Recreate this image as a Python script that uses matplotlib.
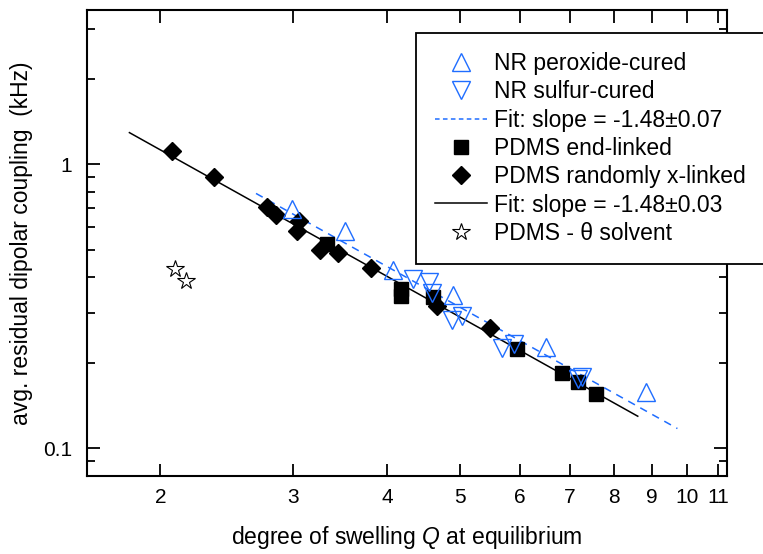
import numpy as np
import matplotlib
matplotlib.use("Agg")
import matplotlib.pyplot as plt
from matplotlib.ticker import FixedLocator, NullLocator, NullFormatter, FixedFormatter, LogLocator

plt.rcParams['font.family'] = ['Liberation Sans', 'DejaVu Sans']
plt.rcParams['mathtext.fontset'] = 'custom'
plt.rcParams['mathtext.rm'] = 'Liberation Sans'
plt.rcParams['mathtext.it'] = 'Liberation Sans:italic'

# NR peroxide-cured (up triangles)
nr_perox_q = [2.99, 3.52, 4.08, 4.90, 6.50, 8.82]
nr_perox_d = [0.697, 0.582, 0.425, 0.347, 0.228, 0.158]

# NR sulfur-cured (down triangles)
nr_sulf_q = [4.33, 4.55, 4.59, 4.88, 5.03, 5.68, 5.89, 7.17, 7.27]
nr_sulf_d = [0.394, 0.386, 0.353, 0.283, 0.292, 0.225, 0.234, 0.176, 0.178]

# PDMS end-linked (squares)
pdms_end_q = [3.33, 4.18, 4.18, 4.61, 5.96, 6.84, 7.17, 7.57]
pdms_end_d = [0.526, 0.365, 0.345, 0.342, 0.224, 0.1835, 0.171, 0.156]

# PDMS randomly x-linked (diamonds)
pdms_rand_q = [2.07, 2.36, 2.77, 2.85, 3.06, 3.04, 3.26, 3.44, 3.81, 4.66, 5.48]
pdms_rand_d = [1.118, 0.903, 0.709, 0.662, 0.633, 0.585, 0.498, 0.487, 0.430, 0.317, 0.265]

# PDMS in theta solvent (stars)
pdms_theta_q = [2.09, 2.165]
pdms_theta_d = [0.428, 0.388]

# power-law fits D = A * Q^slope
nr_slope, nr_pref = -1.48, 3.40
nr_fit_q = np.array([2.68, 9.72])
pdms_slope, pdms_pref = -1.48, 3.14
pdms_fit_q = np.array([1.82, 8.61])

blue = '#1f6dff'

fig = plt.figure(figsize=(7.63, 5.54), dpi=100)
ax = fig.add_axes([0.1144, 0.1408, 0.8380, 0.8412])

ax.plot(pdms_fit_q, pdms_pref * pdms_fit_q ** pdms_slope, color='black', lw=1.1, zorder=2)
ax.plot(nr_fit_q, nr_pref * nr_fit_q ** nr_slope, color=blue, lw=1.1, dashes=(5, 4), zorder=2)

h_up, = ax.plot(nr_perox_q, nr_perox_d, ls='none', marker='^', ms=12.5, mfc='none', mec=blue, mew=1.0, zorder=4)
h_dn, = ax.plot(nr_sulf_q, nr_sulf_d, ls='none', marker='v', ms=12.5, mfc='none', mec=blue, mew=1.0, zorder=4)
h_sq, = ax.plot(pdms_end_q, pdms_end_d, ls='none', marker='s', ms=10, color='black', zorder=3)
h_di, = ax.plot(pdms_rand_q, pdms_rand_d, ls='none', marker='D', ms=9, color='black', zorder=3)
h_st, = ax.plot(pdms_theta_q, pdms_theta_d, ls='none', marker='*', ms=13, mfc='white', mec='black', mew=0.8, zorder=3)

ax.set_xscale('log')
ax.set_yscale('log')
ax.set_xlim(1.60, 11.30)
ax.set_ylim(0.0799, 3.50)

xt = [2, 3, 4, 5, 6, 7, 8, 9, 10, 11]
ax.xaxis.set_major_locator(FixedLocator(xt))
ax.xaxis.set_major_formatter(FixedFormatter([str(t) for t in xt]))
ax.xaxis.set_minor_locator(NullLocator())
ax.xaxis.set_minor_formatter(NullFormatter())
ax.yaxis.set_major_locator(FixedLocator([0.1, 1]))
ax.yaxis.set_major_formatter(FixedFormatter(['0.1', '1']))
ax.yaxis.set_minor_locator(LogLocator(base=10, subs=np.arange(2, 10)))
ax.yaxis.set_minor_formatter(NullFormatter())

ax.tick_params(which='both', direction='in', top=True, right=True, width=1.3, labelsize=15)
ax.tick_params(axis='x', which='major', length=9, pad=9)
ax.tick_params(axis='y', which='major', length=9.5, pad=11)
ax.tick_params(axis='y', which='minor', length=5.5)
for s in ax.spines.values():
    s.set_linewidth(1.5)

ax.set_xlabel('degree of swelling $Q$ at equilibrium', fontsize=16.5, labelpad=12)
ax.set_ylabel('avg. residual dipolar coupling  (kHz)', fontsize=16.5, labelpad=7)

h_nrfit, = ax.plot([], [], color=blue, lw=1.1, dashes=(3, 2.2))
h_pdfit, = ax.plot([], [], color='black', lw=1.1)

leg = ax.legend([h_up, h_dn, h_nrfit, h_sq, h_di, h_pdfit, h_st],
                ['NR peroxide-cured', 'NR sulfur-cured', 'Fit: slope = -1.48\u00b10.07',
                 'PDMS end-linked', 'PDMS randomly x-linked', 'Fit: slope = -1.48\u00b10.03',
                 'PDMS - \u03b8 solvent'],
                loc='upper left', bbox_to_anchor=(0.5452, 0.5, 0.5, 0.441),
                bbox_transform=fig.transFigure, mode='expand', borderaxespad=0,
                fontsize=16.5, numpoints=1, handlelength=2.27, handletextpad=0.3,
                labelspacing=0.23, borderpad=0.85, fancybox=False, framealpha=1,
                edgecolor='black')
leg.get_frame().set_linewidth(1.3)
leg.set_zorder(6)

fig.savefig('out.png', dpi=100)
